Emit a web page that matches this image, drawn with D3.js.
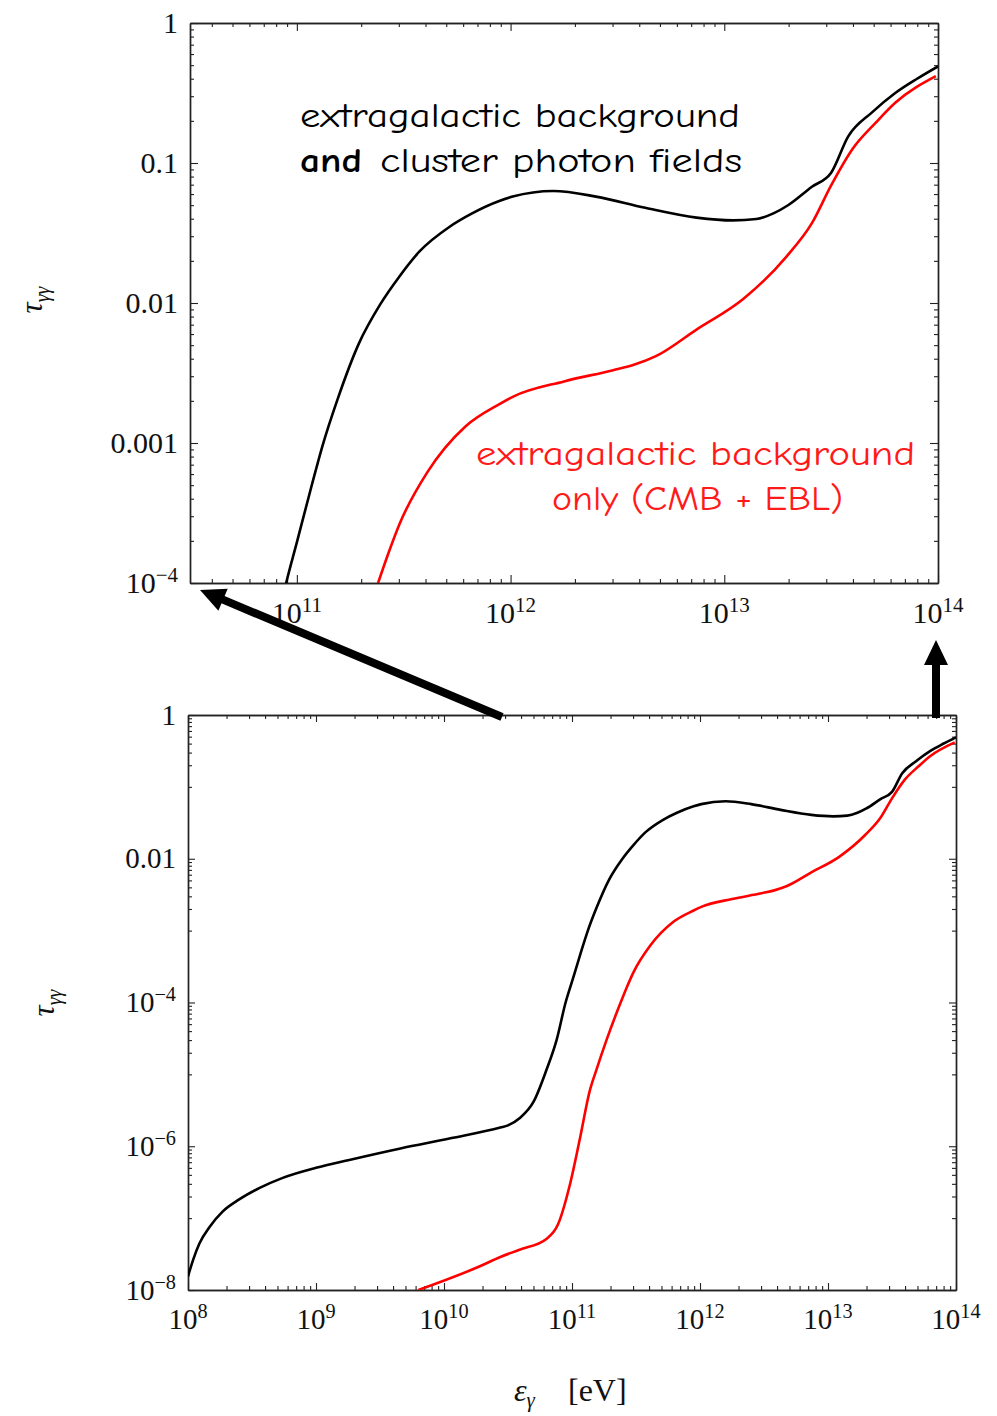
<!DOCTYPE html>
<html>
<head>
<meta charset="utf-8">
<script src="https://cdn.jsdelivr.net/npm/d3@7"></script>
<style>
  body { margin: 0; background: #fff; }
  .tick line { stroke: #222; stroke-width: 1.1; }
  .domain { stroke: #222; stroke-width: 1.4; }
</style>
</head>
<body>
<div id="chart"></div>
<script>
// values, as log10(E/eV) and log10(tau)
// cluster + extragalactic (black)
const blackLogE = [8.00, 8.04, 8.09, 8.17, 8.27, 8.40, 8.56, 8.74, 9.00, 9.26, 9.66, 10.05, 10.44, 10.50, 10.59, 10.70, 10.80, 10.88, 10.95, 11.00, 11.07, 11.12, 11.19, 11.29, 11.39, 11.48, 11.575, 11.715, 11.82, 11.95, 12.01, 12.20, 12.40, 12.63, 12.87, 13.04, 13.15, 13.23, 13.30, 13.41, 13.50, 13.58, 13.69, 13.80, 13.90, 14.00];
const blackLogTau = [-7.81, -7.58, -7.35, -7.12, -6.91, -6.74, -6.58, -6.44, -6.30, -6.19, -6.03, -5.89, -5.74, -5.71, -5.61, -5.38, -4.94, -4.52, -4.00, -3.71, -3.30, -3.02, -2.69, -2.29, -2.01, -1.81, -1.63, -1.455, -1.36, -1.27, -1.24, -1.20, -1.24, -1.32, -1.39, -1.41, -1.40, -1.36, -1.30, -1.17, -1.07, -0.81, -0.64, -0.50, -0.40, -0.31];
// extragalactic only, CMB + EBL (red)
const redLogE = [9.80, 10.28, 10.44, 10.59, 10.80, 10.89, 10.98, 11.06, 11.14, 11.19, 11.27, 11.38, 11.43, 11.48, 11.61, 11.79, 11.95, 12.01, 12.25, 12.48, 12.58, 12.68, 12.87, 13.09, 13.29, 13.41, 13.50, 13.60, 13.71, 13.80, 13.99];
const redLogTau = [-8.00, -7.67, -7.54, -7.44, -7.29, -7.09, -6.56, -5.91, -5.22, -4.94, -4.52, -4.00, -3.78, -3.58, -3.21, -2.88, -2.72, -2.67, -2.56, -2.48, -2.44, -2.38, -2.19, -1.97, -1.67, -1.43, -1.16, -0.90, -0.71, -0.57, -0.38];

// tick labels
const topXTicks = [11, 12, 13, 14];
const topYTicks = [0, -1, -2, -3, -4];
const topYLabels = ["1", "0.1", "0.01", "0.001", "10^\u22124"];
const botXTicks = [8, 9, 10, 11, 12, 13, 14];
const botYTicks = [0, -2, -4, -6, -8];
const botYLabels = ["1", "0.01", "10^\u22124", "10^\u22126", "10^\u22128"];

const W = 997, H = 1416;
const serif = "'Liberation Serif', 'Times New Roman', serif";
const comic = "'Comic Sans MS', 'Comic Neue', 'Open Sans', sans-serif";

const svg = d3.select("#chart").append("svg")
  .attr("width", W)
  .attr("height", H)
  .style("background", "#fff");

const black = blackLogE.map((e, i) => [e, blackLogTau[i]]);
const red = redLogE.map((e, i) => [e, redLogTau[i]]);

// writes "10^n" as 10 with a superscript
function label(sel, str, x, y, anchor, fs) {
  const t = sel.append("text")
    .attr("x", x).attr("y", y)
    .attr("text-anchor", anchor)
    .attr("font-family", serif)
    .attr("font-size", fs)
    .attr("fill", "#111");
  const parts = str.split("^");
  t.append("tspan").text(parts[0]);
  if (parts.length > 1) {
    t.append("tspan").attr("dy", -fs * 0.38).attr("font-size", fs * 0.7).text(parts[1]);
  }
  return t;
}

function minors(e0, e1, ms) {
  const out = [];
  for (let e = Math.floor(e0); e < e1; e++) {
    ms.forEach(m => {
      const v = m * Math.pow(10, e);
      if (Math.log10(v) > e0 + 1e-6 && Math.log10(v) < e1 - 1e-6) out.push(v);
    });
  }
  return out;
}

function panel(c) {
  const x = d3.scaleLog().domain([Math.pow(10, c.xExp[0]), Math.pow(10, c.xExp[1])]).range([c.left, c.right]);
  const y = d3.scaleLog().domain([Math.pow(10, c.yExp[0]), Math.pow(10, c.yExp[1])]).range([c.bottom, c.top]);
  const g = svg.append("g");

  g.append("clipPath").attr("id", c.id)
    .append("rect")
    .attr("x", c.left).attr("y", c.top)
    .attr("width", c.right - c.left).attr("height", c.bottom - c.top);

  const xMaj = c.xTicks.map(e => Math.pow(10, e));
  const yMaj = c.yTicks.map(e => Math.pow(10, e));
  const xMin = minors(c.xExp[0], c.xExp[1], [2, 3, 4, 5, 6, 7, 8, 9]);
  const yMin = c.yMinor;

  const axes = [
    [d3.axisBottom, `translate(0,${c.bottom})`, x, xMaj, xMin],
    [d3.axisTop, `translate(0,${c.top})`, x, xMaj, xMin],
    [d3.axisLeft, `translate(${c.left},0)`, y, yMaj, yMin],
    [d3.axisRight, `translate(${c.right},0)`, y, yMaj, yMin]
  ];
  axes.forEach(([ax, tr, sc, maj, min]) => {
    g.append("g").attr("transform", tr)
      .call(ax(sc).tickValues(min).tickSize(-c.minLen).tickSizeOuter(0).tickFormat(""));
    g.append("g").attr("transform", tr)
      .call(ax(sc).tickValues(maj).tickSize(-c.majLen).tickSizeOuter(0).tickFormat(""));
  });

  const line = d3.line()
    .x(d => x(Math.pow(10, d[0])))
    .y(d => y(Math.pow(10, d[1])))
    .curve(d3.curveMonotoneX);

  const curves = g.append("g").attr("clip-path", `url(#${c.id})`);
  curves.append("path").datum(black)
    .attr("d", line).attr("fill", "none")
    .attr("stroke", "#000").attr("stroke-width", 2.6);
  curves.append("path").datum(red)
    .attr("d", line).attr("fill", "none")
    .attr("stroke", "#f00").attr("stroke-width", 2.6);

  // tick labels
  c.xTicks.forEach(e => label(g, "10^" + e, x(Math.pow(10, e)), c.bottom + c.xLabGap, "middle", c.fs));
  c.yTicks.forEach((e, i) => label(g, c.yLabels[i], c.left - 12, y(Math.pow(10, e)) + c.fs * 0.33, "end", c.fs));

  // tau_gamma gamma
  const yl = g.append("text")
    .attr("transform", `translate(${c.titleX},${c.titleY}) rotate(-90)`)
    .attr("text-anchor", "middle")
    .attr("font-family", serif)
    .attr("fill", "#111");
  yl.append("tspan").attr("font-size", 31).attr("font-style", "italic").text("\u03c4");
  yl.append("tspan").attr("font-size", 20).attr("font-style", "italic").attr("dy", 7).text("\u03b3\u03b3");

  return {x, y};
}

// bottom panel y minor ticks: decade just below each labelled one
const botYMinor = [];
[-1, -3, -5, -7].forEach(e => [1, 2, 3, 4, 5, 6, 7, 8, 9].forEach(m => botYMinor.push(m * Math.pow(10, e))));

panel({
  id: "clipTop", left: 190, right: 938, top: 23, bottom: 583,
  xExp: [10.5, 14], yExp: [-4, 0],
  xTicks: topXTicks, yTicks: topYTicks, yLabels: topYLabels,
  yMinor: minors(-4, 0, [2, 3, 4, 5, 6, 7, 8, 9]),
  majLen: 8, minLen: 4, fs: 30, xLabGap: 40,
  titleX: 42, titleY: 300
});

panel({
  id: "clipBot", left: 188, right: 956, top: 715, bottom: 1290,
  xExp: [8, 14], yExp: [-8, 0],
  xTicks: botXTicks, yTicks: botYTicks, yLabels: botYLabels,
  yMinor: botYMinor,
  majLen: 7, minLen: 4, fs: 29, xLabGap: 39,
  titleX: 54, titleY: 1003
});

// x axis title
const xt = svg.append("text")
  .attr("x", 514).attr("y", 1401)
  .attr("font-family", serif).attr("fill", "#111");
xt.append("tspan").attr("font-size", 32).attr("font-style", "italic").text("\u03b5");
xt.append("tspan").attr("font-size", 21).attr("font-style", "italic").attr("dy", 6).text("\u03b3");
xt.append("tspan").attr("x", 568).attr("dy", -6).attr("font-size", 32).text("[eV]");

// annotations
function note(txt, x, y, len, color, bold) {
  svg.append("text")
    .attr("x", x).attr("y", y)
    .attr("font-family", comic)
    .attr("font-size", 34)
    .attr("font-weight", bold ? "bold" : "normal")
    .attr("fill", color)
    .attr("textLength", len)
    .attr("lengthAdjust", "spacingAndGlyphs")
    .text(txt);
}
note("extragalactic background", 300, 127, 440, "#000", false);
note("and", 300, 172, 62, "#000", true);
note("cluster photon fields", 380, 172, 362, "#000", false);
note("extragalactic background", 476, 465, 439, "#ff1a1a", false);
note("only (CMB + EBL)", 552, 510, 291, "#ff1a1a", false);

// zoom arrows
function arrow(x1, y1, x2, y2) {
  const dx = x2 - x1, dy = y2 - y1, L = Math.hypot(dx, dy);
  const ux = dx / L, uy = dy / L, px = -uy, py = ux;
  const hl = 25, hw = 12;
  const bx = x2 - ux * hl, by = y2 - uy * hl;
  svg.append("line")
    .attr("x1", x1).attr("y1", y1).attr("x2", bx + ux * 2).attr("y2", by + uy * 2)
    .attr("stroke", "#000").attr("stroke-width", 8);
  svg.append("path")
    .attr("d", `M${x2},${y2}L${bx + px * hw},${by + py * hw}L${bx - px * hw},${by - py * hw}Z`)
    .attr("fill", "#000");
}
arrow(502, 717, 200, 590);
arrow(936, 718, 936, 640);
</script>
</body>
</html>
